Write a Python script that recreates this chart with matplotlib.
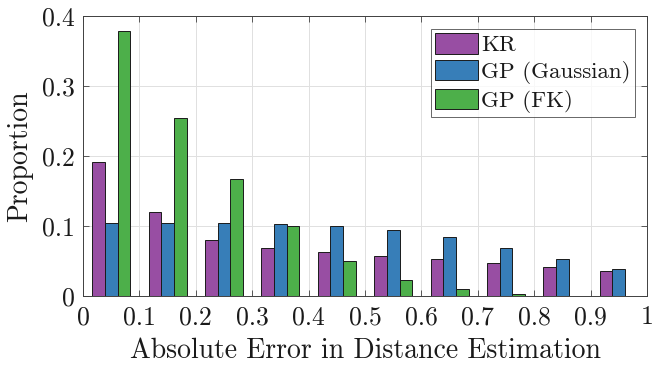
import numpy as np
import matplotlib
matplotlib.use("Agg")
import matplotlib.pyplot as plt

plt.rcParams['font.family'] = ['cmr10', 'DejaVu Serif']
plt.rcParams['axes.formatter.use_mathtext'] = True
plt.rcParams['mathtext.fontset'] = 'cm'

bin_centers = [0.05, 0.15, 0.25, 0.35, 0.45, 0.55, 0.65, 0.75, 0.85, 0.95]
kr = [0.191, 0.1195, 0.0805, 0.0686, 0.0624, 0.057, 0.0524, 0.0467, 0.041, 0.0357]
gp_gauss = [0.104, 0.104, 0.104, 0.1024, 0.0995, 0.0948, 0.0838, 0.0686, 0.0524, 0.038]
gp_fk = [0.378, 0.254, 0.1667, 0.1005, 0.0505, 0.0224, 0.0095, 0.0029, 0.0005, 0.0]
series_names = ['KR', 'GP (Gaussian)', 'GP (FK)']
colors = ['#984EA3', '#377EB8', '#4DAF4A']
xticks = [0, 0.1, 0.2, 0.3, 0.4, 0.5, 0.6, 0.7, 0.8, 0.9, 1]
xticklabels = ['0', '0.1', '0.2', '0.3', '0.4', '0.5', '0.6', '0.7', '0.8', '0.9', '1']
yticks = [0, 0.1, 0.2, 0.3, 0.4]
yticklabels = ['0', '0.1', '0.2', '0.3', '0.4']

fig = plt.figure(figsize=(6.52, 3.67), dpi=100)
ax = fig.add_axes([83/652, 1 - 296/367, (647-83)/652, (296-16)/367])

w = 0.0225
x = np.array(bin_centers)
for i, (vals, name, c) in enumerate(zip([kr, gp_gauss, gp_fk], series_names, colors)):
    ax.bar(x + (i - 1) * w, vals, width=w, color=c, edgecolor='#1a1a1a',
           linewidth=0.7, label=name, zorder=3)

ax.set_xlim(0, 1)
ax.set_ylim(0, 0.4)
ax.set_xticks(xticks)
ax.set_xticklabels(xticklabels)
ax.set_yticks(yticks)
ax.set_yticklabels(yticklabels)
ax.grid(True, color='#e0e0e0', linewidth=0.7, zorder=0)
ax.set_axisbelow(True)
ax.tick_params(direction='in', top=True, right=True, length=4, width=0.6,
               colors='#404040', labelcolor='#1a1a1a', labelsize=18.5)
ax.tick_params(axis='x', pad=7)
ax.tick_params(axis='y', pad=6)
for s in ax.spines.values():
    s.set_color('#404040')
    s.set_linewidth(0.7)

ax.set_xlabel('Absolute Error in Distance Estimation', fontsize=20, color='#1a1a1a', labelpad=6)
ax.set_ylabel('Proportion', fontsize=20, color='#1a1a1a', labelpad=6)

leg = ax.legend(loc='upper right', bbox_to_anchor=(0.979, 0.955), fontsize=16.5,
                frameon=True, fancybox=False, edgecolor='#404040',
                handlelength=1.85, handleheight=1.0, handletextpad=0.15,
                borderpad=0.2, labelspacing=0.2, borderaxespad=0)
leg.get_frame().set_linewidth(0.7)
for t in leg.get_texts():
    t.set_color('#1a1a1a')

fig.savefig('out.png', dpi=100)
